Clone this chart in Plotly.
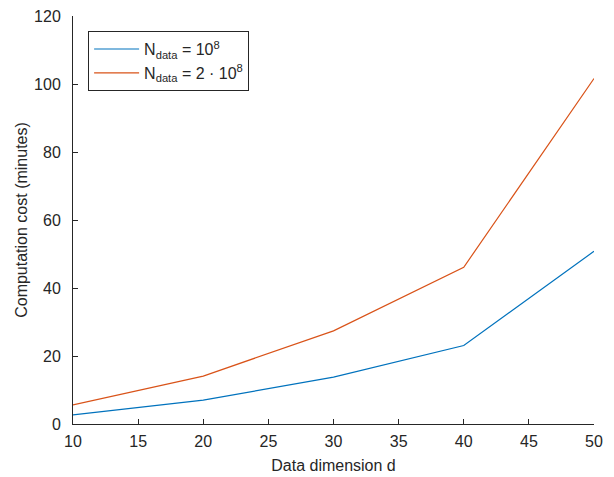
import plotly.graph_objects as go

d = [10, 20, 30, 40, 50]
cost_1e8 = [2.7, 7.0, 13.8, 23.1, 50.8]
cost_2e8 = [5.6, 14.1, 27.4, 46.1, 101.6]
name_1 = "N<sub>data</sub> = 10<sup>8</sup>"
name_2 = "N<sub>data</sub> = 2 · 10<sup>8</sup>"

fig = go.Figure()
fig.add_trace(go.Scatter(x=d, y=cost_1e8, mode="lines", name=name_1,
                         line=dict(color="#0072BD", width=1.2)))
fig.add_trace(go.Scatter(x=d, y=cost_2e8, mode="lines", name=name_2,
                         line=dict(color="#D95319", width=1.2)))

axis_common = dict(showline=True, linecolor="#262626", linewidth=1,
                   ticks="inside", ticklen=5, tickcolor="#262626",
                   showgrid=False, zeroline=False, mirror=False, automargin=False,
                   tickfont=dict(size=16, color="#262626"))

fig.update_layout(
    width=614, height=477,
    margin=dict(l=73, r=20, t=16, b=53, autoexpand=False),
    paper_bgcolor="white", plot_bgcolor="white",
    font=dict(family="Liberation Sans, Arial, sans-serif", color="#262626", size=16),
    xaxis=dict(range=[10, 50], tickvals=[10, 15, 20, 25, 30, 35, 40, 45, 50],
               ticklabelstandoff=3,
               title=dict(text="Data dimension d", font=dict(size=16), standoff=10),
               **axis_common),
    yaxis=dict(range=[0, 120], tickvals=[0, 20, 40, 60, 80, 100, 120],
               ticklabelstandoff=8,
               title=dict(text="Computation cost (minutes)", font=dict(size=16), standoff=2),
               **axis_common),
    legend=dict(x=0.029, y=0.963, xanchor="left", yanchor="top",
                bordercolor="#262626", borderwidth=1, bgcolor="white",
                itemwidth=45,
                font=dict(size=16, color="#262626"), tracegroupgap=6),
    showlegend=True,
)

fig.write_html("out.html",
               config={"displayModeBar": False},
               post_script="document.body.style.margin='0';document.body.style.overflow='hidden';")
